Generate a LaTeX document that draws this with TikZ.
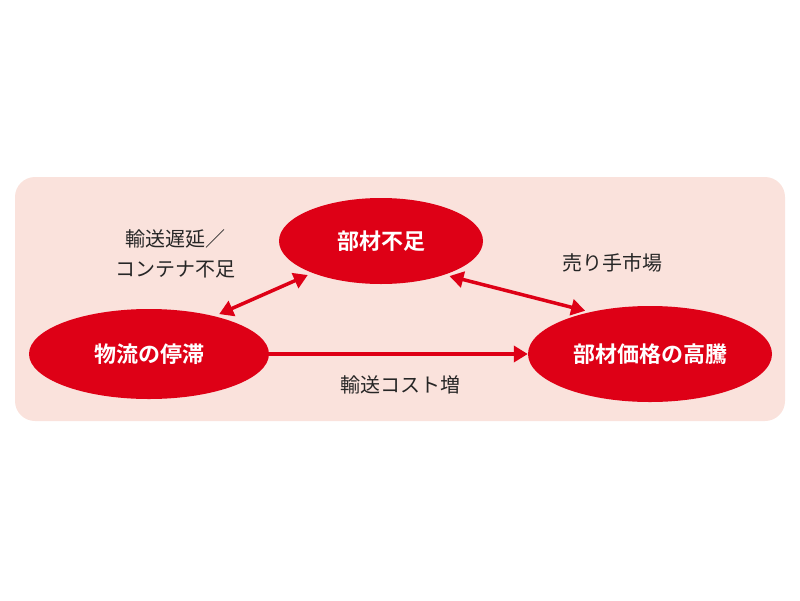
\documentclass[tikz,border=0pt]{standalone}
\usepackage{fontspec}
\newfontfamily\cjk{Noto Sans CJK JP}
\newfontfamily\cjkb{Noto Sans CJK JP Bold}
\usetikzlibrary{shapes.geometric,arrows.meta}
\definecolor{bg}{RGB}{250,226,220}
\definecolor{rd}{RGB}{222,0,22}
\begin{document}
\begin{tikzpicture}[x=1pt,y=-1pt,
  ell/.style={ellipse,fill=rd,draw=none,text=white,font=\cjkb\fontsize{22}{26}\selectfont,inner sep=0pt},
  lbl/.style={font=\cjk\fontsize{20}{30}\selectfont,text=black!85,align=center},
  arr/.style={draw=rd,line width=3.5pt,-{Triangle[length=14pt,width=16pt]}},
  darr/.style={draw=rd,line width=3.5pt,shorten <=5pt,shorten >=5pt,{Triangle[length=14pt,width=16pt]}-{Triangle[length=14pt,width=16pt]}}]
\useasboundingbox (0,0) rectangle (800,600);
\fill[bg,rounded corners=20pt] (15,177) rectangle (785,421);
\node[ell,minimum width=204pt,minimum height=86pt] (top) at (381,241) {部材不足};
\node[ell,minimum width=240pt,minimum height=90pt] (left) at (149,354) {物流の停滞};
\node[ell,minimum width=244pt,minimum height=96pt] (right) at (650,354) {部材価格の高騰};
\draw[darr] (left.30) -- (top.205);
\draw[darr] (top.-28) -- (right.145);
\draw[arr] (left.east) -- (right.west);
\node[lbl] (l1) at (175,254) {輸送遅延／\\コンテナ不足};
\node[lbl] (l2) at (612,263) {売り手市場};
\node[lbl] (l3) at (400,385) {輸送コスト増};
\end{tikzpicture}
\end{document}
